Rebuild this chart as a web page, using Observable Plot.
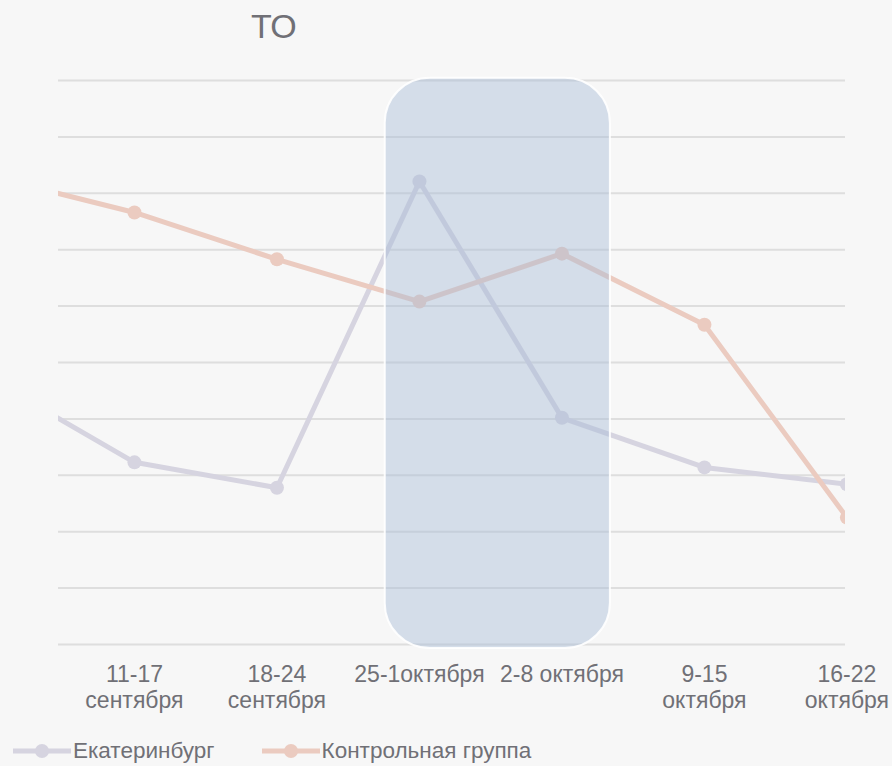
<!DOCTYPE html>
<html>
<head>
<meta charset="utf-8">
<script src="https://cdn.jsdelivr.net/npm/d3@7"></script>
<script src="https://cdn.jsdelivr.net/npm/@observablehq/plot@0.6"></script>
<style>
  html, body { margin: 0; padding: 0; background: #f7f7f7; }
  body { width: 892px; height: 766px; position: relative; overflow: hidden; font-family: "Liberation Sans", Arial, sans-serif; }
  #title { position: absolute; left: 251px; top: 7px; font-size: 34px; color: #707076; }
  #chart { position: absolute; left: 0; top: 60px; }
  #legend { position: absolute; left: 12px; top: 738px; display: flex; align-items: center; font-size: 22.5px; color: #707076; }
  .item { display: flex; align-items: center; margin-right: 46px; }
  .item svg { margin-right: 1px; }
</style>
</head>
<body>
<div id="title">ТО</div>
<div id="chart"></div>
<div id="legend"></div>
<script>
const weeks = ["4-10 сентября", "11-17 сентября", "18-24 сентября", "25-1 октября", "2-8 октября", "9-15 октября", "16-22 октября"];
const tickLabels = ["", "11-17\nсентября", "18-24\nсентября", "25-1октября", "2-8 октября", "9-15\nоктября", "16-22\nоктября"];
const seriesNames = ["Екатеринбург", "Контрольная группа"];
const seriesColors = ["#d6d4e0", "#ebcbc0"];
const ekb = [4.69, 3.23, 2.78, 8.21, 4.02, 3.14, 2.84];
const control = [8.29, 7.66, 6.83, 6.08, 6.93, 5.67, 2.25];
const gridValues = [0, 1, 2, 3, 4, 5, 6, 7, 8, 9, 10];
const highlightWeeks = ["25-1 октября", "2-8 октября"];

const rows = [];
weeks.forEach((w, i) => {
  rows.push({i, week: w, series: seriesNames[0], value: ekb[i]});
  rows.push({i, week: w, series: seriesNames[1], value: control[i]});
});
const hl = [{
  x1: weeks.indexOf(highlightWeeks[0]) - 0.24,
  x2: weeks.indexOf(highlightWeeks[1]) + 0.34,
  y1: -0.07, y2: 10.04
}];

const chart = Plot.plot({
  width: 892,
  height: 660,
  marginLeft: 58,
  marginRight: 47,
  marginTop: 20,
  marginBottom: 76,
  style: {background: "transparent", fontFamily: "'Liberation Sans', Arial, sans-serif", color: "#707076"},
  x: {type: "linear", domain: [0.467, 5.99]},
  y: {domain: [0, 10], axis: null},
  color: {domain: seriesNames, range: seriesColors},
  marks: [
    Plot.ruleY(gridValues, {stroke: "#dedede", strokeWidth: 2}),
    Plot.line(rows, {x: "i", y: "value", z: "series", stroke: "series", strokeWidth: 5, clip: true}),
    Plot.dot(rows, {x: "i", y: "value", fill: "series", r: 7, clip: true}),
    Plot.rect(hl, {x1: "x1", x2: "x2", y1: "y1", y2: "y2", rx: 45, fill: "#a9bdd8", fillOpacity: 0.45, stroke: "#ffffff", strokeWidth: 2, strokeOpacity: 0.9}),
    Plot.axisX({ticks: [1, 2, 3, 4, 5, 6], tickFormat: d => tickLabels[d], tickSize: 0, tickPadding: 20, fontSize: 23, lineHeight: 1.1, fill: "#707076", label: null})
  ]
});
document.getElementById("chart").appendChild(chart);

const legend = document.getElementById("legend");
seriesNames.forEach((name, k) => {
  const item = document.createElement("div");
  item.className = "item";
  item.innerHTML = `<svg width="60" height="20"><line x1="1" y1="10" x2="59" y2="10" stroke="${seriesColors[k]}" stroke-width="5"/><circle cx="30" cy="10" r="7" fill="${seriesColors[k]}"/></svg><span>${name}</span>`;
  legend.appendChild(item);
});
</script>
</body>
</html>
